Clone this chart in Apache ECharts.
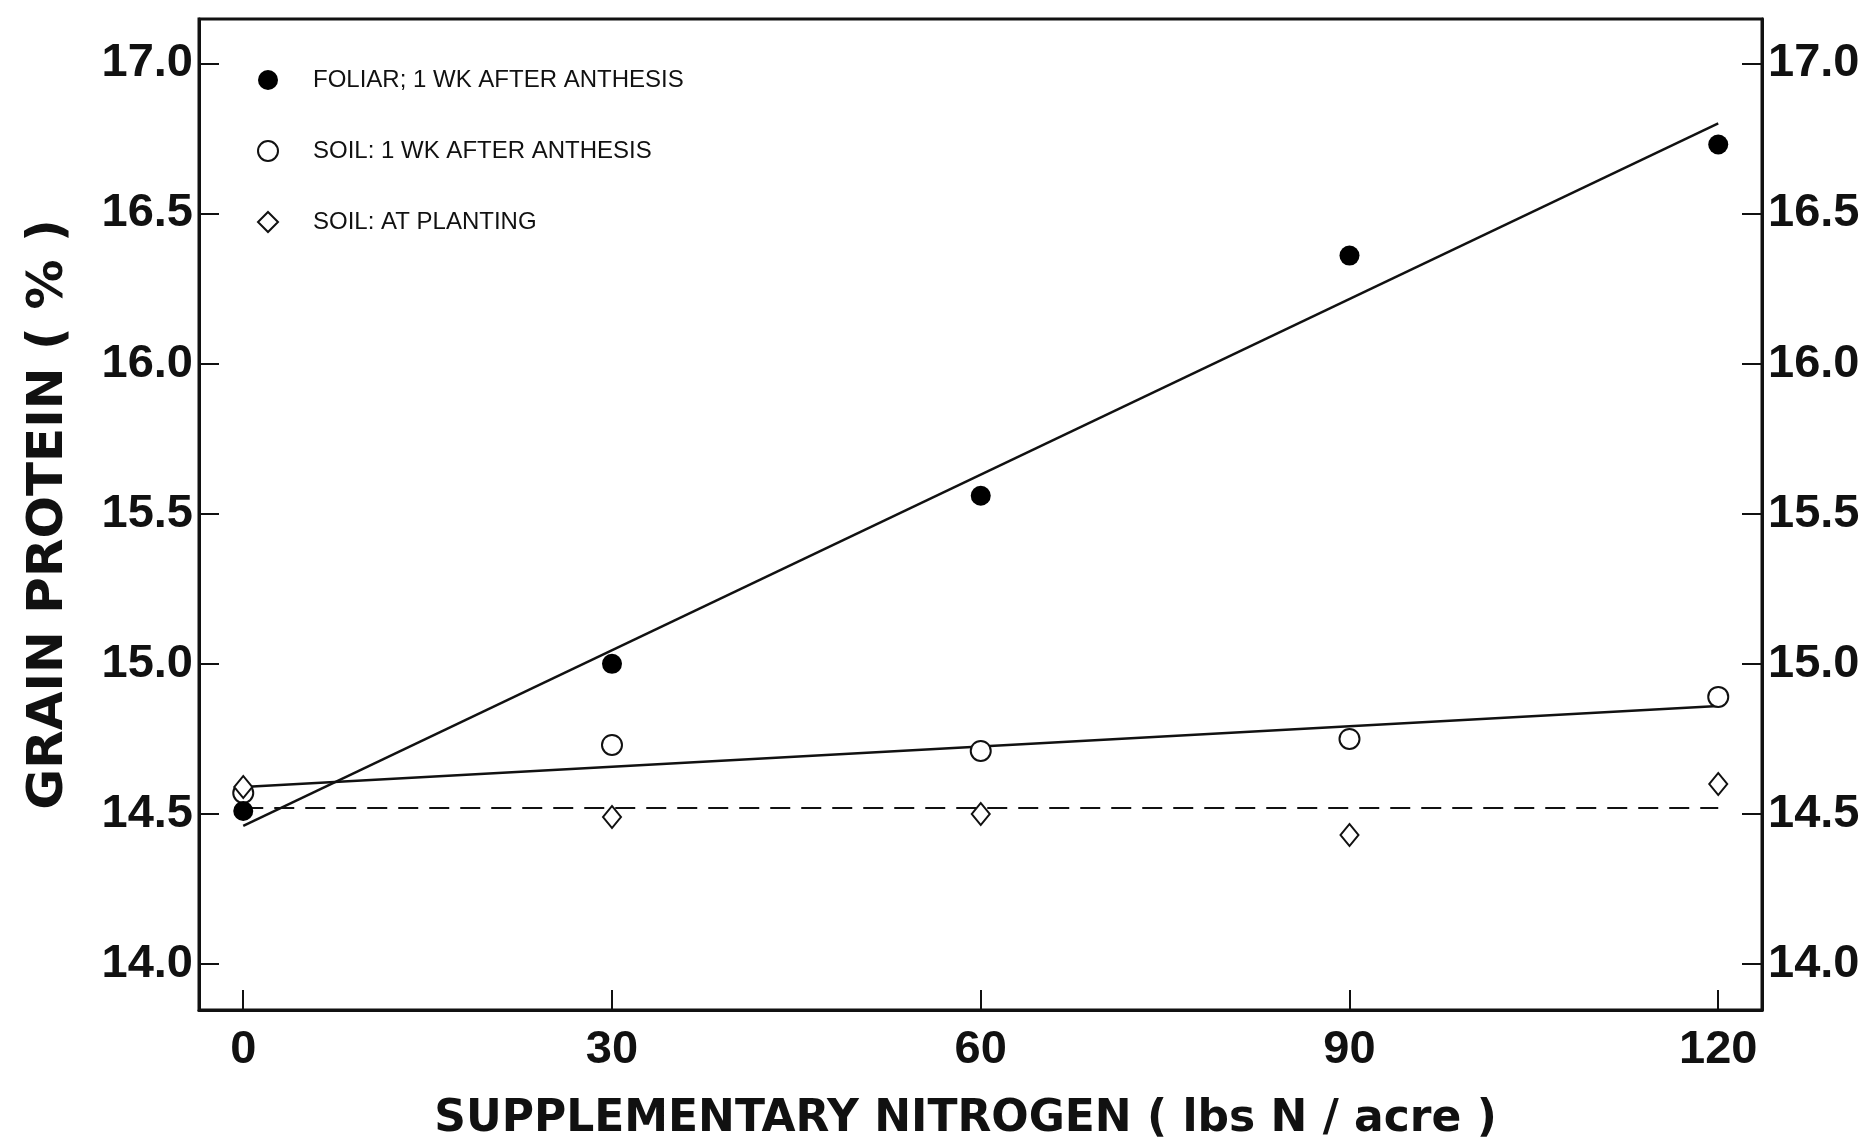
<!DOCTYPE html>
<html>
<head>
<meta charset="utf-8">
<script src="https://cdn.jsdelivr.net/npm/echarts@6/dist/echarts.min.js"></script>
<style>
html,body{margin:0;padding:0;background:#fff;}
#chart{width:1872px;height:1138px;}
</style>
</head>
<body>
<div id="chart"></div>
<script>
// ---- data ----
const xTicks = [0, 30, 60, 90, 120];
const yTicks = [14.0, 14.5, 15.0, 15.5, 16.0, 16.5, 17.0];
const nitrogen = [0, 30, 60, 90, 120];

const foliarName = 'FOLIAR; 1 WK AFTER ANTHESIS';
const soilName = 'SOIL: 1 WK AFTER ANTHESIS';
const plantName = 'SOIL: AT PLANTING';

const foliar = [14.51, 15.00, 15.56, 16.36, 16.73];
const soilAfter = [14.57, 14.73, 14.71, 14.75, 14.89];
const soilPlanting = [14.59, 14.49, 14.50, 14.43, 14.60];

// fitted lines (end points)
const fitX = [0, 120];
const foliarFit = [14.46, 16.80];
const soilFit = [14.59, 14.86];
const plantingMean = [14.52, 14.52];

const pair = (xs, ys) => xs.map((x, i) => [x, ys[i]]);

const chart = echarts.init(document.getElementById('chart'), null, {renderer: 'canvas'});

const tickFont = {fontFamily: 'Liberation Sans', fontWeight: 'bold', fontSize: 47, color: '#111'};

const yAxisCommon = {
  type: 'value', min: 13.847, max: 17.148,
  splitLine: {show: false},
  axisLine: {show: true, onZero: false, lineStyle: {color: '#111', width: 3}},
  axisTick: {show: true, inside: true, length: 20, customValues: yTicks, lineStyle: {color: '#111', width: 2}},
  axisLabel: Object.assign({show: true, customValues: yTicks, margin: 6, formatter: v => Number(v).toFixed(1)}, tickFont)
};

const option = {
  backgroundColor: '#fff',
  animation: false,
  grid: {left: 199, right: 110, top: 19, bottom: 128, show: true, borderColor: '#111', borderWidth: 3,
         containLabel: false, outerBoundsMode: 'none'},
  legend: {
    orient: 'vertical', left: 252, top: 63, itemWidth: 20, itemHeight: 20, itemGap: 47,
    textStyle: {fontFamily: 'Liberation Sans', fontSize: 24, color: '#111', padding: [0, 0, 0, 30]},
    data: [
      {name: foliarName, icon: 'circle'},
      {name: soilName, icon: 'emptyCircle'},
      {name: plantName, icon: 'emptyDiamond'}
    ]
  },
  xAxis: {
    type: 'value', min: -3.6, max: 123.56,
    splitLine: {show: false},
    axisLine: {show: true, onZero: false, lineStyle: {color: '#111', width: 3}},
    axisTick: {show: true, inside: true, length: 20, customValues: xTicks, lineStyle: {color: '#111', width: 2}},
    axisLabel: Object.assign({show: true, customValues: xTicks, margin: 17}, tickFont),
    name: 'SUPPLEMENTARY NITROGEN ( lbs N / acre )',
    nameLocation: 'middle', nameGap: 88,
    nameTextStyle: {fontFamily: 'DejaVu Sans', fontWeight: 'bold', fontSize: 44, color: '#111', padding: [0, 30, 0, 0]}
  },
  yAxis: [
    Object.assign({}, yAxisCommon, {
      position: 'left',
      name: 'GRAIN PROTEIN ( % )', nameLocation: 'middle', nameGap: 125,
      nameTextStyle: {fontFamily: 'DejaVu Sans', fontWeight: 'bold', fontSize: 50, color: '#111'}
    }),
    Object.assign({}, yAxisCommon, {position: 'right'})
  ],
  series: [
    {type: 'line', data: pair(fitX, foliarFit), symbol: 'none', silent: true,
     lineStyle: {color: '#111', width: 2.5}, z: 2},
    {type: 'line', data: pair(fitX, soilFit), symbol: 'none', silent: true,
     lineStyle: {color: '#111', width: 2.5}, z: 2},
    {type: 'line', data: pair(fitX, plantingMean), symbol: 'none', silent: true,
     lineStyle: {color: '#111', width: 2, type: [20, 11]}, z: 2},
    {name: foliarName, type: 'scatter', data: pair(nitrogen, foliar), symbol: 'circle', symbolSize: 20,
     itemStyle: {color: '#000', opacity: 1}, z: 5},
    {name: soilName, type: 'scatter', data: pair(nitrogen, soilAfter), symbol: 'emptyCircle', symbolSize: 20,
     itemStyle: {color: '#111', borderColor: '#111', borderWidth: 2, opacity: 1}, z: 4},
    {name: plantName, type: 'scatter', data: pair(nitrogen, soilPlanting), symbol: 'emptyDiamond', symbolSize: [18, 22],
     itemStyle: {color: '#111', borderColor: '#111', borderWidth: 2, opacity: 1}, z: 4}
  ]
};
chart.setOption(option);
</script>
</body>
</html>
